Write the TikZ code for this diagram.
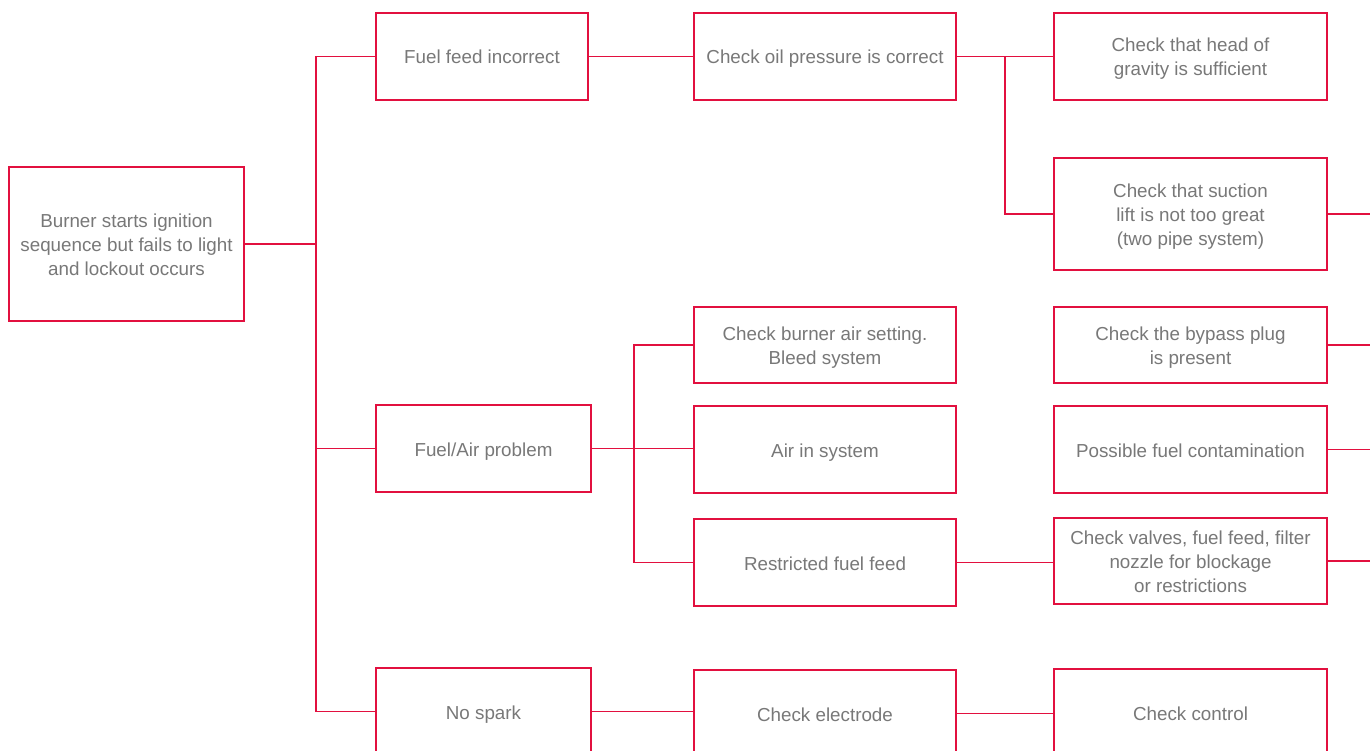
\documentclass[tikz,border=0pt]{standalone}
\usepackage{fontspec}
\setmainfont{Liberation Sans}
\definecolor{lred}{HTML}{E2103F}
\definecolor{tgray}{HTML}{787878}
\newcommand{\bstrut}{\vrule height 19pt depth 4pt width 0pt}
\begin{document}
\begin{tikzpicture}[x=1pt,y=-1pt,
  box/.style={draw=lred,line width=1.3pt,fill=white,align=center,text=tgray,
    font=\fontsize{18.8pt}{24pt}\selectfont,inner sep=0pt},
  conn/.style={draw=lred,line width=1.3pt}]
\useasboundingbox (0,0) rectangle (1370,751);
\begin{scope}
\clip (0,0) rectangle (1370,751);
% column 0
\node[box,minimum width=235pt,minimum height=154pt] (root) at (126.5,244) {\bstrut Burner starts ignition\\sequence but fails to light\\and lockout occurs\bstrut};
% column 1
\node[box,minimum width=212pt,minimum height=87pt] (ffi) at (482,56.5) {\bstrut Fuel feed incorrect};
\node[box,minimum width=215pt,minimum height=87pt] (fap) at (483.5,448.5) {\bstrut Fuel/Air problem};
\node[box,minimum width=215pt,minimum height=87pt] (ns) at (483.5,711.5) {\bstrut No spark};
% column 2
\node[box,minimum width=262pt,minimum height=87pt] (cop) at (825,56.5) {\bstrut Check oil pressure is correct};
\node[box,minimum width=262pt,minimum height=76pt] (cba) at (825,345) {\bstrut Check burner air setting.\\Bleed system\bstrut};
\node[box,minimum width=262pt,minimum height=87pt] (ais) at (825,449.5) {\bstrut Air in system};
\node[box,minimum width=262pt,minimum height=87pt] (rff) at (825,562.5) {\bstrut Restricted fuel feed};
\node[box,minimum width=262pt,minimum height=87pt] (ce) at (825,713.5) {\bstrut Check electrode};
% column 3
\node[box,minimum width=273pt,minimum height=87pt] (chg) at (1190.5,56.5) {\bstrut Check that head of\\gravity is sufficient\bstrut};
\node[box,minimum width=273pt,minimum height=112pt] (cts) at (1190.5,214) {\bstrut Check that suction\\lift is not too great\\(two pipe system)\bstrut};
\node[box,minimum width=273pt,minimum height=76pt] (cbp) at (1190.5,345) {\bstrut Check the bypass plug\\is present\bstrut};
\node[box,minimum width=273pt,minimum height=87pt] (pfc) at (1190.5,449.5) {\bstrut Possible fuel contamination};
\node[box,minimum width=273pt,minimum height=86pt] (cvf) at (1190.5,561) {\bstrut Check valves, fuel feed, filter\\nozzle for blockage\\or restrictions\bstrut};
\node[box,minimum width=273pt,minimum height=88pt] (cc) at (1190.5,713) {\bstrut Check control};
% junction coordinates
\coordinate (t1) at (316,0);
\coordinate (b1) at (1005,0);
\coordinate (b2) at (634,0);
\coordinate (R) at (1375,0);
% connectors
\draw[conn] (root.east) -- (root.east -| t1);
\draw[conn] (ffi.west) -- (ffi.west -| t1) |- (ns.west);
\draw[conn] (fap.west) -- (fap.west -| t1);
\draw[conn] (ffi.east) -- (cop.west);
\draw[conn] (cop.east) -- (chg.west);
\draw[conn] (cop.east -| b1) |- (cts.west);
\draw[conn] (fap.east) -- (fap.east -| ais.west);
\draw[conn] (cba.west) -- (cba.west -| b2) |- (rff.west);
\draw[conn] (rff.east) -- (rff.east -| cvf.west);
\draw[conn] (ns.east) -- (ns.east -| ce.west);
\draw[conn] (ce.east) -- (ce.east -| cc.west);
\draw[conn] (cts.east) -- (cts.east -| R);
\draw[conn] (cbp.east) -- (cbp.east -| R);
\draw[conn] (pfc.east) -- (pfc.east -| R);
\draw[conn] (cvf.east) -- (cvf.east -| R);
\end{scope}
\end{tikzpicture}
\end{document}
